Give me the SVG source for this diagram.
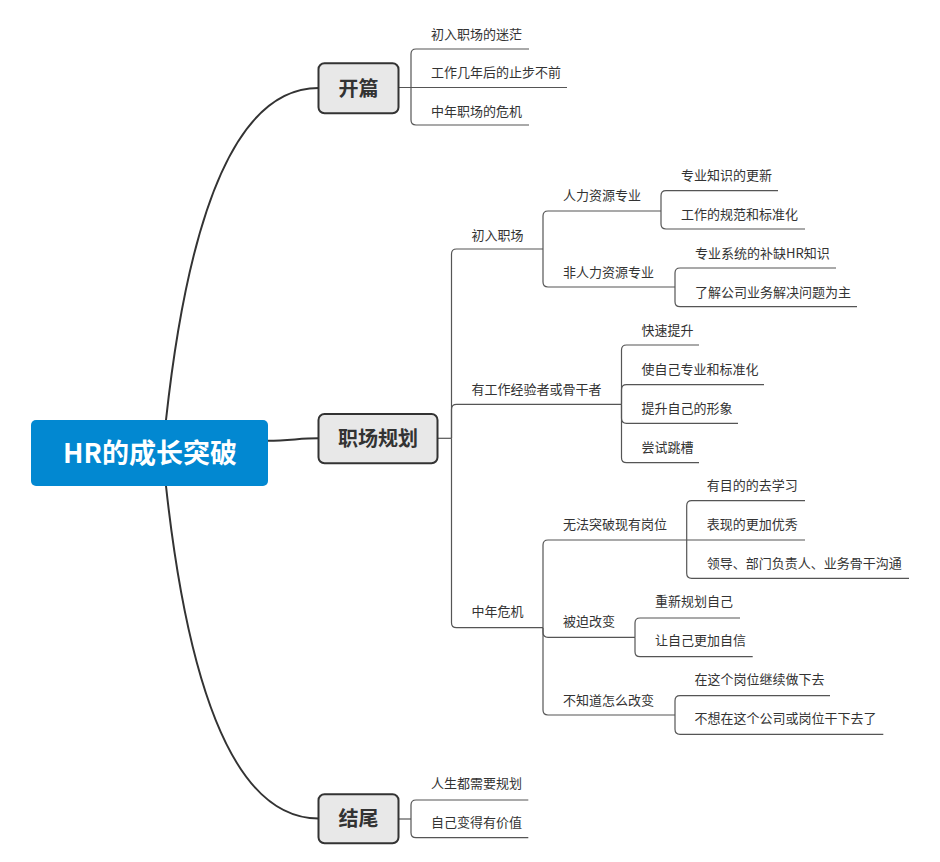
<svg xmlns="http://www.w3.org/2000/svg" width="940" height="862" viewBox="0 0 940 862">
<style>
.main-link{fill:none;stroke:#333;stroke-width:2}
.link{fill:none;stroke:#555;stroke-width:1.2}
.box{fill:#e8e8e8;stroke:#333;stroke-width:2}
.root{fill:#0288d1}
.rt{font-family:"Noto Sans CJK SC","Liberation Sans",sans-serif;font-size:27px;font-weight:bold;fill:#fff;text-anchor:middle}
.mt{font-family:"Noto Sans CJK SC","Liberation Sans",sans-serif;font-size:20px;font-weight:bold;fill:#333;text-anchor:middle}
.t{font-family:"Noto Sans CJK SC","Liberation Sans",sans-serif;font-size:13px;fill:#333}
</style>
<rect width="940" height="862" fill="#fff"/>
<g id="connectors">
<path class="main-link" d="M166,420 C190,200 240,88 318.5,88"/>
<path class="main-link" d="M267.7,440.7 C290,440.5 300,438.3 318.5,438.3"/>
<path class="main-link" d="M166,486 C190,706 240,818.5 318.5,818.5"/>
<path class="link" d="M398.5,87.5 H567"/>
<path class="link" d="M411,87.5 V54 Q411,49 416,49 H529"/>
<path class="link" d="M411,87.5 V120 Q411,125 416,125 H529"/>
<path class="link" d="M437.5,438.3 H451.5"/>
<path class="link" d="M451.5,438.3 V254 Q451.5,249 456.5,249 H543"/>
<path class="link" d="M451.5,438.3 V409.3 Q451.5,404.3 456.5,404.3 H621.5"/>
<path class="link" d="M451.5,438.3 V622.7 Q451.5,627.7 456.5,627.7 H543"/>
<path class="link" d="M543,249 V216 Q543,211 548,211 H661"/>
<path class="link" d="M543,249 V282 Q543,287 548,287 H675"/>
<path class="link" d="M661,211 V195.7 Q661,190.7 666,190.7 H778"/>
<path class="link" d="M661,211 V224 Q661,229 666,229 H805"/>
<path class="link" d="M675,287 V273 Q675,268 680,268 H836"/>
<path class="link" d="M675,287 V301.7 Q675,306.7 680,306.7 H857"/>
<path class="link" d="M621.5,404.3 V350 Q621.5,345 626.5,345 H699"/>
<path class="link" d="M621.5,404.3 V389.7 Q621.5,384.7 626.5,384.7 H764"/>
<path class="link" d="M621.5,404.3 V418.3 Q621.5,423.3 626.5,423.3 H738"/>
<path class="link" d="M621.5,404.3 V457.7 Q621.5,462.7 626.5,462.7 H699"/>
<path class="link" d="M543,627.7 V545 Q543,540 548,540 H686.7"/>
<path class="link" d="M543,627.7 V632.3 Q543,637.3 548,637.3 H635"/>
<path class="link" d="M543,627.7 V710 Q543,715 548,715 H675"/>
<path class="link" d="M686.7,540 V505.7 Q686.7,500.7 691.7,500.7 H805"/>
<path class="link" d="M686.7,540 H805"/>
<path class="link" d="M686.7,540 V573.3 Q686.7,578.3 691.7,578.3 H909"/>
<path class="link" d="M635,637.3 V623 Q635,618 640,618 H740"/>
<path class="link" d="M635,637.3 V651.7 Q635,656.7 640,656.7 H752.7"/>
<path class="link" d="M675,715 V700.7 Q675,695.7 680,695.7 H830"/>
<path class="link" d="M675,715 V729.3 Q675,734.3 680,734.3 H883.3"/>
<path class="link" d="M398.5,819 H411"/>
<path class="link" d="M411,819 V805 Q411,800 416,800 H528.3"/>
<path class="link" d="M411,819 V832.7 Q411,837.7 416,837.7 H528.3"/>
</g>
<g id="root">
<rect class="root" x="31" y="420" width="237" height="66" rx="5"/>
<text class="rt" x="150" y="463">HR的成长突破</text>
</g>
<g id="kaipian">
<rect class="box" x="318.5" y="63.3" width="80" height="50" rx="6"/>
<text class="mt" x="358.5" y="95.5">开篇</text>
</g>
<g id="zhichangguihua">
<rect class="box" x="318.5" y="414" width="119" height="49.3" rx="6"/>
<text class="mt" x="378" y="445.5">职场规划</text>
</g>
<g id="jiewei">
<rect class="box" x="318.5" y="794.3" width="80" height="49" rx="6"/>
<text class="mt" x="358.5" y="826">结尾</text>
</g>
<g id="kp-1"><text class="t" x="431" y="39">初入职场的迷茫</text></g>
<g id="kp-2"><text class="t" x="431" y="77.3">工作几年后的止步不前</text></g>
<g id="kp-3"><text class="t" x="431" y="115.5">中年职场的危机</text></g>
<g id="zc-1"><text class="t" x="471.5" y="239.7">初入职场</text></g>
<g id="zc-1-1"><text class="t" x="563" y="199.7">人力资源专业</text></g>
<g id="zc-1-1-1"><text class="t" x="681" y="179.7">专业知识的更新</text></g>
<g id="zc-1-1-2"><text class="t" x="681" y="219">工作的规范和标准化</text></g>
<g id="zc-1-2"><text class="t" x="563" y="277">非人力资源专业</text></g>
<g id="zc-1-2-1"><text class="t" x="695" y="258">专业系统的补缺HR知识</text></g>
<g id="zc-1-2-2"><text class="t" x="695" y="297">了解公司业务解决问题为主</text></g>
<g id="zc-2"><text class="t" x="471.5" y="394">有工作经验者或骨干者</text></g>
<g id="zc-2-1"><text class="t" x="641.5" y="334.7">快速提升</text></g>
<g id="zc-2-2"><text class="t" x="641.5" y="374">使自己专业和标准化</text></g>
<g id="zc-2-3"><text class="t" x="641.5" y="413">提升自己的形象</text></g>
<g id="zc-2-4"><text class="t" x="641.5" y="451.7">尝试跳槽</text></g>
<g id="zc-3"><text class="t" x="471.5" y="615.7">中年危机</text></g>
<g id="zc-3-1"><text class="t" x="563" y="529">无法突破现有岗位</text></g>
<g id="zc-3-1-1"><text class="t" x="706.7" y="489.7">有目的的去学习</text></g>
<g id="zc-3-1-2"><text class="t" x="706.7" y="529">表现的更加优秀</text></g>
<g id="zc-3-1-3"><text class="t" x="706.7" y="568">领导、部门负责人、业务骨干沟通</text></g>
<g id="zc-3-2"><text class="t" x="563" y="625.7">被迫改变</text></g>
<g id="zc-3-2-1"><text class="t" x="655" y="605.7">重新规划自己</text></g>
<g id="zc-3-2-2"><text class="t" x="655" y="644.7">让自己更加自信</text></g>
<g id="zc-3-3"><text class="t" x="563" y="705">不知道怎么改变</text></g>
<g id="zc-3-3-1"><text class="t" x="694.5" y="684">在这个岗位继续做下去</text></g>
<g id="zc-3-3-2"><text class="t" x="694.5" y="723">不想在这个公司或岗位干下去了</text></g>
<g id="jw-1"><text class="t" x="431" y="788">人生都需要规划</text></g>
<g id="jw-2"><text class="t" x="431" y="826.7">自己变得有价值</text></g>
</svg>
